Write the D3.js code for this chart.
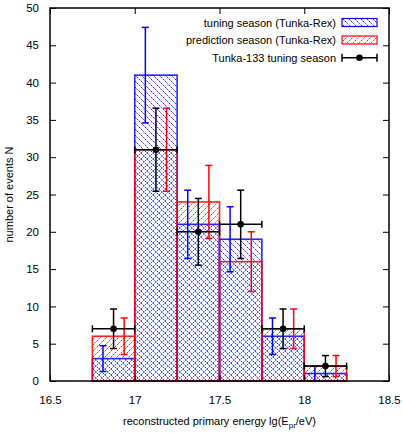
<!DOCTYPE html>
<html><head><meta charset="utf-8">
<script src="https://cdn.jsdelivr.net/npm/d3@7"></script>
<style>body{margin:0;background:#fff}text{font-family:"Liberation Sans",Arial,sans-serif}</style>
</head><body><svg id="c" width="403" height="433"></svg>
<script>
const binEdges = [16.75, 17.0, 17.25, 17.5, 17.75, 18.0, 18.25];
const tuningRex = [3, 41, 21, 19, 6, 1];
const tuningRexErr = [1.73, 6.40, 4.58, 4.36, 2.45, 1.0];
const predictionRex = [6, 31, 24, 16, 7, 2];
const predictionRexErr = [2.45, 5.57, 4.90, 4.0, 2.65, 1.41];
const tunka133 = [7, 31, 20, 21, 7, 2];
const tunka133Err = [2.65, 5.57, 4.47, 4.58, 2.65, 1.41];
const xTicks = [16.5, 17, 17.5, 18, 18.5];
const yTicks = [0, 5, 10, 15, 20, 25, 30, 35, 40, 45, 50];
const legendLabels = ["tuning season (Tunka-Rex)", "prediction season (Tunka-Rex)", "Tunka-133 tuning season"];

const svg = d3.select("#c");
const L = 50, R = 389, T = 8, B = 381;
const x = d3.scaleLinear().domain([16.5, 18.5]).range([L, R]);
const y = d3.scaleLinear().domain([0, 50]).range([B, T]);

const defs = svg.append("defs");
function pat(id, color, d) {
  const p = defs.append("pattern").attr("id", id).attr("patternUnits", "userSpaceOnUse")
    .attr("width", 6).attr("height", 6);
  p.append("path").attr("d", d).attr("stroke", color).attr("stroke-width", 0.85)
    .attr("stroke-dasharray", "1.8,0.8").attr("fill", "none");
}
pat("pBlue", "#0000ff", "M-1,-1 L7,7 M-1,5 L1,7 M5,-1 L7,1");
pat("pRed", "#ff0000", "M-1,7 L7,-1 M-1,1 L1,-1 M5,7 L7,5");

const bins = d3.range(tuningRex.length);
function bars(vals, color, pid) {
  svg.append("g").selectAll("rect").data(bins).join("rect")
    .attr("x", i => x(binEdges[i])).attr("width", i => x(binEdges[i + 1]) - x(binEdges[i]))
    .attr("y", i => y(vals[i])).attr("height", i => y(0) - y(vals[i]))
    .attr("fill", `url(#${pid})`).attr("stroke", color).attr("stroke-width", 1.6)
    .attr("stroke-opacity", 0.85);
}
bars(tuningRex, "#0000ff", "pBlue");
bars(predictionRex, "#ff0000", "pRed");

const mid = i => (binEdges[i] + binEdges[i + 1]) / 2;
function errs(vals, err, color, off) {
  const g = svg.append("g").attr("stroke", color).attr("stroke-width", 1.5).attr("fill", "none");
  bins.forEach(i => {
    const cx = x(mid(i) + off);
    const lo = Math.max(0, vals[i] - err[i]), hi = vals[i] + err[i];
    g.append("line").attr("x1", cx).attr("x2", cx).attr("y1", y(lo)).attr("y2", y(hi));
    g.append("line").attr("x1", cx - 3.5).attr("x2", cx + 3.5).attr("y1", y(hi)).attr("y2", y(hi));
    g.append("line").attr("x1", cx - 3.5).attr("x2", cx + 3.5).attr("y1", y(lo)).attr("y2", y(lo));
  });
}
errs(tuningRex, tuningRexErr, "#0000ff", -0.0625);
errs(predictionRex, predictionRexErr, "#ff0000", 0.0625);
errs(tunka133, tunka133Err, "#000", 0);
const gb = svg.append("g").attr("stroke", "#000").attr("stroke-width", 1.5);
bins.forEach(i => {
  const yy = y(tunka133[i]);
  gb.append("line").attr("x1", x(binEdges[i])).attr("x2", x(binEdges[i + 1])).attr("y1", yy).attr("y2", yy);
  [binEdges[i], binEdges[i + 1]].forEach(e =>
    gb.append("line").attr("x1", x(e)).attr("x2", x(e)).attr("y1", yy - 3.5).attr("y2", yy + 3.5));
});
svg.append("g").selectAll("circle").data(bins).join("circle")
  .attr("cx", i => x(mid(i))).attr("cy", i => y(tunka133[i])).attr("r", 3.3).attr("fill", "#000");

// axes
const axB = svg.append("g").attr("transform", `translate(0,${B})`)
  .call(d3.axisBottom(x).tickValues(xTicks).tickFormat(d3.format("")).tickSizeInner(-6).tickSizeOuter(0).tickPadding(15));
const axT = svg.append("g").attr("transform", `translate(0,${T})`)
  .call(d3.axisTop(x).tickValues(xTicks).tickFormat("").tickSizeInner(-6).tickSizeOuter(0));
const axL = svg.append("g").attr("transform", `translate(${L},0)`)
  .call(d3.axisLeft(y).tickValues(yTicks).tickFormat(d3.format("")).tickSizeInner(-6).tickSizeOuter(0).tickPadding(11));
const axR = svg.append("g").attr("transform", `translate(${R},0)`)
  .call(d3.axisRight(y).tickValues(yTicks).tickFormat("").tickSizeInner(-6).tickSizeOuter(0));
[axB, axT, axL, axR].forEach(a => {
  a.select(".domain").remove();
  a.selectAll("line").attr("stroke", "#000").attr("stroke-width", 1);
  a.selectAll("text").attr("font-size", 11.5).attr("fill", "#000").attr("font-family", "Liberation Sans, Arial, sans-serif");
});
svg.append("rect").attr("x", L).attr("y", T).attr("width", R - L).attr("height", B - T)
  .attr("fill", "none").attr("stroke", "#000").attr("stroke-width", 1.5);

// axis labels
const xl = svg.append("text").attr("x", (L + R) / 2).attr("y", 425).attr("text-anchor", "middle").attr("font-size", 11);
xl.append("tspan").text("reconstructed primary energy lg(E");
xl.append("tspan").attr("dy", 3).attr("font-size", 8).text("pr");
xl.append("tspan").attr("dy", -3).text("/eV)");
svg.append("text").attr("transform", `translate(13,${(T + B) / 2}) rotate(-90)`).attr("text-anchor", "middle")
  .attr("font-size", 11).text("number of events N");

// legend
const lg = svg.append("g");
const rowsY = [22.5, 40, 57.7];
legendLabels.forEach((t, i) => {
  lg.append("text").attr("x", 336).attr("y", rowsY[i] + 4).attr("text-anchor", "end").attr("font-size", 11).text(t);
});
lg.append("rect").attr("x", 342).attr("y", 18.5).attr("width", 35).attr("height", 8)
  .attr("fill", "url(#pBlue)").attr("stroke", "#0000ff").attr("stroke-width", 1.2);
lg.append("rect").attr("x", 342).attr("y", 36).attr("width", 35).attr("height", 8)
  .attr("fill", "url(#pRed)").attr("stroke", "#ff0000").attr("stroke-width", 1.2);
const ly = rowsY[2];
lg.append("line").attr("x1", 342).attr("x2", 377).attr("y1", ly).attr("y2", ly).attr("stroke", "#000").attr("stroke-width", 1.5);
[342, 377].forEach(xx => lg.append("line").attr("x1", xx).attr("x2", xx).attr("y1", ly - 4).attr("y2", ly + 4).attr("stroke", "#000").attr("stroke-width", 1.5));
lg.append("circle").attr("cx", 359.5).attr("cy", ly).attr("r", 3.3).attr("fill", "#000");
</script></body></html>
